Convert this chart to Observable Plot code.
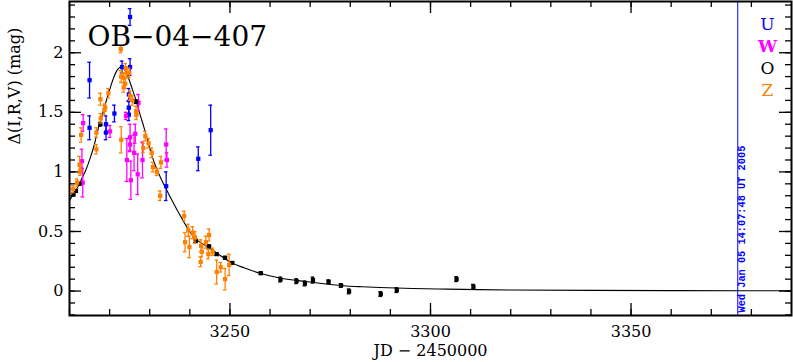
<!DOCTYPE html>
<html><head><meta charset="utf-8">
<script src="https://cdn.jsdelivr.net/npm/d3@7"></script>
<script src="https://cdn.jsdelivr.net/npm/@observablehq/plot@0.6"></script>
<style>html,body{margin:0;padding:0;background:#fff;overflow:hidden}</style>
</head><body><div id="chart"></div>
<script>
// ---- data ----
const title = "OB\u221204\u2212407";
const xLabel = "JD \u2212 2450000";
const yLabel = "\u0394(I,R,V) (mag)";
const stampLabel = "Wed Jan 05 14:07:48 UT 2005";
const stampX = [3376.6];

const xMajor = [3250, 3300, 3350];
const xMinor = [3210, 3220, 3230, 3240, 3250, 3260, 3270, 3280, 3290, 3300, 3310, 3320, 3330, 3340, 3350, 3360, 3370, 3380];
const yMajor = [0, 0.5, 1, 1.5, 2];
const yMinor = [-0.2, -0.1, 0, 0.1, 0.2, 0.3, 0.4, 0.5, 0.6, 0.7, 0.8, 0.9, 1, 1.1, 1.2, 1.3, 1.4, 1.5, 1.6, 1.7, 1.8, 1.9, 2, 2.1, 2.2, 2.3, 2.4];

const seriesNames = ["U", "W", "O", "Z"];
const seriesColors = ["#0000ff", "#ff00ff", "#000000", "#ff8000"];

// U (blue)
const uJD  = [3215.0, 3215.0, 3219.1, 3219.1, 3221.2, 3223.1, 3225.1, 3225.1, 3224.8, 3224.8, 3224.8, 3234.1, 3242.1, 3245.2];
const uMag = [1.77, 1.37, 1.40, 1.33, 1.49, 1.88, 1.88, 2.30, 1.65, 1.54, 1.48, 0.88, 1.11, 1.35];
const uErr = [0.15, 0.10, 0.07, 0.06, 0.07, 0.05, 0.07, 0.07, 0.05, 0.05, 0.05, 0.12, 0.10, 0.21];

// W (magenta)
const wJD  = [3213.4, 3213.1, 3213.3, 3220.1, 3224.1, 3225.1, 3225.1, 3224.3, 3225.3, 3226.4, 3226.1, 3227.0, 3228.2, 3234.1, 3234.3, 3227.2];
const wMag = [1.41, 1.09, 0.91, 1.34, 1.47, 1.29, 1.23, 1.10, 0.93, 1.32, 1.16, 0.98, 1.10, 1.23, 1.10, 1.58];
const wErr = [0.07, 0.10, 0.12, 0.05, 0.03, 0.11, 0.06, 0.18, 0.16, 0.08, 0.15, 0.17, 0.15, 0.13, 0.06, 0.07];

// O (black)
const oJD  = [3211.0, 3211.6, 3212.5, 3217.7, 3226.6, 3241.5, 3244.8, 3246.7, 3248.8, 3250.6, 3257.7, 3262.6, 3266.6, 3268.7, 3270.7, 3274.6, 3277.7, 3279.7, 3287.6, 3291.6, 3306.5, 3310.7];
const oMag = [0.81, 0.84, 0.90, 1.40, 1.59, 0.42, 0.375, 0.31, 0.28, 0.236, 0.15, 0.097, 0.083, 0.064, 0.092, 0.078, 0.047, -0.003, -0.025, 0.008, 0.10, 0.036];
const oErr = [0.01, 0.01, 0.01, 0.015, 0.015, 0.01, 0.01, 0.01, 0.01, 0.01, 0.01, 0.02, 0.02, 0.02, 0.025, 0.015, 0.015, 0.02, 0.02, 0.02, 0.02, 0.02];

// Z (orange)
const zJD  = [3210.9, 3211.9, 3212.5, 3212.7, 3212.9, 3216.7, 3216.7, 3217.8, 3218.7, 3217.7, 3219.7, 3218.9, 3222.9, 3222.8, 3222.9, 3223.5, 3223.9, 3224.3, 3224.0, 3224.9, 3223.5, 3225.1, 3225.7, 3226.6, 3226.7, 3228.9, 3229.7, 3228.4, 3230.5, 3230.8, 3231.8, 3232.8, 3232.6, 3238.6, 3239.6, 3238.8, 3239.9, 3240.7, 3241.3, 3242.8, 3243.0, 3242.7, 3244.0, 3244.8, 3244.6, 3245.7, 3246.7, 3247.7, 3248.8, 3249.8];
const zMag = [0.855, 0.91, 1.06, 1.01, 1.31, 1.19, 1.33, 1.45, 1.52, 1.61, 1.66, 1.54, 1.27, 2.03, 1.80, 1.79, 1.74, 1.83, 1.87, 1.83, 1.71, 1.64, 1.60, 1.51, 1.48, 1.30, 1.24, 1.20, 1.16, 1.04, 1.00, 1.08, 0.80, 0.63, 0.51, 0.41, 0.37, 0.49, 0.45, 0.38, 0.33, 0.245, 0.41, 0.47, 0.31, 0.33, 0.16, 0.20, 0.10, 0.22];
const zErr = [0.03, 0.03, 0.07, 0.04, 0.06, 0.04, 0.04, 0.04, 0.04, 0.05, 0.04, 0.03, 0.11, 0.03, 0.05, 0.04, 0.04, 0.04, 0.04, 0.04, 0.04, 0.04, 0.04, 0.04, 0.04, 0.04, 0.04, 0.04, 0.04, 0.04, 0.03, 0.05, 0.04, 0.04, 0.05, 0.08, 0.09, 0.05, 0.05, 0.05, 0.04, 0.04, 0.05, 0.05, 0.04, 0.03, 0.10, 0.04, 0.09, 0.09];

// model curve
const modelJD  = [3210.0, 3211.0, 3212.0, 3213.0, 3214.0, 3215.2, 3216.2, 3217.2, 3218.2, 3219.2, 3220.1, 3221.0, 3221.8, 3222.9, 3223.9, 3224.8, 3225.7, 3226.6, 3227.6, 3228.6, 3229.6, 3230.6, 3231.8, 3233.0, 3234.2, 3235.4, 3237.0, 3239.2, 3241.0, 3243.0, 3245.0, 3247.5, 3250.0, 3253.5, 3257.5, 3262.4, 3266.5, 3270.6, 3275.0, 3279.0, 3283.0, 3287.3, 3295.6, 3304.0, 3312.0, 3320.0, 3340.0, 3360.0, 3390.0];
const modelMag = [0.755, 0.82, 0.87, 0.94, 1.01, 1.12, 1.23, 1.37, 1.48, 1.60, 1.70, 1.79, 1.85, 1.88, 1.85, 1.78, 1.69, 1.60, 1.48, 1.37, 1.25, 1.13, 1.02, 0.93, 0.85, 0.77, 0.67, 0.54, 0.45, 0.40, 0.36, 0.30, 0.245, 0.195, 0.15, 0.11, 0.09, 0.074, 0.055, 0.043, 0.036, 0.030, 0.021, 0.016, 0.012, 0.009, 0.006, 0.004, 0.003];

// ---- layout ----
const W = 793, H = 362, mL = 69, mR = 2, mT = 1, mB = 47;
const innerW = W - mL - mR, innerH = H - mT - mB;
const majorLen = 12, minorLen = 6;

const rows = (jd, mag, err) => jd.map((x, i) => ({x, y: mag[i], e: err[i]}));
const series = [rows(uJD, uMag, uErr), rows(wJD, wMag, wErr), rows(oJD, oMag, oErr), rows(zJD, zMag, zErr)];
const model = modelJD.map((x, i) => ({x, y: modelMag[i]}));

const capHalf = 0.45;
function seriesMarks(data, color) {
  return [
    Plot.ruleX(data, {x: "x", y1: d => d.y - d.e, y2: d => d.y + d.e, stroke: color, strokeWidth: 1.3}),
    Plot.ruleY(data, {y: d => d.y + d.e, x1: d => d.x - capHalf, x2: d => d.x + capHalf, stroke: color, strokeWidth: 1.3}),
    Plot.ruleY(data, {y: d => d.y - d.e, x1: d => d.x - capHalf, x2: d => d.x + capHalf, stroke: color, strokeWidth: 1.3}),
    Plot.dot(data, {x: "x", y: "y", symbol: "square", r: 2.4, fill: color, stroke: "none"})
  ];
}

const tickStyle = {stroke: "#000", strokeWidth: 1.3};

const chart = Plot.plot({
  width: W, height: H,
  marginLeft: mL, marginRight: mR, marginTop: mT, marginBottom: mB,
  style: {fontFamily: "DejaVu Serif", fontSize: "16px", background: "#fff", color: "#000"},
  x: {domain: [3210, 3390]},
  y: {domain: [-0.205, 2.43]},
  marks: [
    // ticks (inward, all four sides)
    Plot.ruleX(xMinor, {x: d => d, insetTop: innerH - minorLen, ...tickStyle}),
    Plot.ruleX(xMinor, {x: d => d, insetBottom: innerH - minorLen, ...tickStyle}),
    Plot.ruleX(xMajor, {x: d => d, insetTop: innerH - majorLen, ...tickStyle}),
    Plot.ruleX(xMajor, {x: d => d, insetBottom: innerH - majorLen, ...tickStyle}),
    Plot.ruleY(yMinor, {y: d => d, insetRight: innerW - minorLen, ...tickStyle}),
    Plot.ruleY(yMinor, {y: d => d, insetLeft: innerW - minorLen, ...tickStyle}),
    Plot.ruleY(yMajor, {y: d => d, insetRight: innerW - majorLen, ...tickStyle}),
    Plot.ruleY(yMajor, {y: d => d, insetLeft: innerW - majorLen, ...tickStyle}),
    // tick labels
    Plot.axisX({ticks: xMajor, tickSize: 0, tickPadding: 10, tickFormat: d => String(d), label: null, fontSize: 16}),
    Plot.axisY({ticks: yMajor, tickSize: 0, tickPadding: 6, tickFormat: d => String(d), label: null, fontSize: 16}),
    // model curve
    Plot.line(model, {x: "x", y: "y", stroke: "#000", strokeWidth: 1.1, curve: "monotone-x"}),
    // data series
    ...seriesMarks(series[0], seriesColors[0]),
    ...seriesMarks(series[1], seriesColors[1]),
    ...seriesMarks(series[2], seriesColors[2]),
    ...seriesMarks(series[3], seriesColors[3]),
    // timestamp line and text
    Plot.ruleX(stampX, {x: d => d, stroke: "#0000ff", strokeWidth: 1}),
    Plot.text(stampX, {x: d => d, text: () => stampLabel, frameAnchor: "bottom", rotate: -90, textAnchor: "start", dx: 7.5, dy: -3, fill: "#0000ff", fontFamily: "Liberation Mono", fontSize: 10.3, fontWeight: "bold"}),
    // title
    Plot.text([title], {text: d => d, frameAnchor: "top-left", textAnchor: "start", dx: 18, dy: 25, fontSize: 28, fill: "#000"}),
    // legend
    ...seriesNames.map((s, i) => Plot.text([s], {text: d => d, frameAnchor: "top-right", textAnchor: "middle", dx: -24, dy: 16 + 22 * i, fill: seriesColors[i], fontSize: 17, fontWeight: i === 1 ? "bold" : "normal"})),
    // axis titles
    Plot.text([xLabel], {text: d => d, frameAnchor: "bottom", dy: 40, fontSize: 16, fill: "#000", letterSpacing: "1.5px"}),
    Plot.text([yLabel], {text: d => d, frameAnchor: "left", dx: -55, dy: -14, rotate: -90, fontSize: 16, fill: "#000"}),
    // frame
    Plot.frame({stroke: "#000", strokeWidth: 2})
  ]
});
document.getElementById("chart").appendChild(chart);
</script>
</body></html>
